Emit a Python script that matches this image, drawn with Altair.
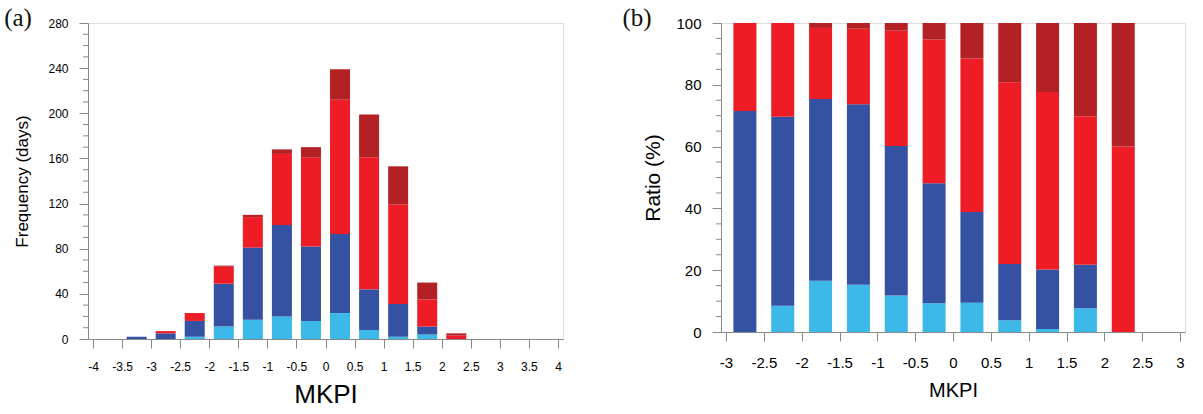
import altair as alt
import pandas as pd

# ---------------- data ----------------
# Panel (a): frequency (days) per MKPI bin, stacked by category
centers_a = [-3.25, -2.75, -2.25, -1.75, -1.25, -0.75, -0.25, 0.25, 0.75, 1.25, 1.75, 2.25]
light_a = [0, 0, 2, 11, 17, 20, 16, 23, 8, 2, 4, 0]
blue_a  = [2, 5, 14, 38, 64, 81, 66, 70, 36, 29, 7, 0]
red_a   = [0, 2, 7, 15, 27, 63, 79, 119, 117, 88, 24, 3]
dark_a  = [0, 0, 0, 1, 2, 4, 9, 27, 38, 34, 15, 2]

# Panel (b): ratio (%) per MKPI bin
centers_b = [-2.75, -2.25, -1.75, -1.25, -0.75, -0.25, 0.25, 0.75, 1.25, 1.75, 2.25]
light_b = [0, 8.5, 16.6, 15.3, 11.8, 9.3, 9.5, 3.8, 1.0, 7.7, 0]
blue_b  = [71.5, 61.2, 58.8, 58.4, 48.4, 38.8, 29.3, 18.2, 19.2, 14.1, 0]
red_b   = [28.5, 30.3, 23.0, 24.4, 37.3, 46.5, 49.7, 58.8, 57.5, 48.0, 60.0]
dark_b  = [0, 0, 1.6, 1.9, 2.5, 5.4, 11.5, 19.2, 22.3, 30.2, 40.0]

cats = ["c1", "c2", "c3", "c4"]
colors = ["#3cb8e9", "#3551a2", "#ee1d25", "#b32124"]

ticks_a_x = [-4, -3.5, -3, -2.5, -2, -1.5, -1, -0.5, 0, 0.5, 1, 1.5, 2, 2.5, 3, 3.5, 4]
ticks_a_y = [0, 40, 80, 120, 160, 200, 240, 280]
minor_a_y = [v for v in range(0, 281, 10) if v % 40 != 0]
ticks_b_x = [-3, -2.5, -2, -1.5, -1, -0.5, 0, 0.5, 1, 1.5, 2, 2.5, 3]
ticks_b_y = [0, 20, 40, 60, 80, 100]
minor_b_y = [v for v in range(0, 101, 5) if v % 20 != 0]


def stack(centers, series):
    rows = []
    for i, c in enumerate(centers):
        base = 0.0
        for k, vals in enumerate(series):
            v = vals[i]
            if v > 0:
                rows.append(dict(x=c, y0=base, y1=base + v, cat=cats[k], order=k))
            base += v
    return pd.DataFrame(rows)


df_a = stack(centers_a, [light_a, blue_a, red_a, dark_a])
df_b = stack(centers_b, [light_b, blue_b, red_b, dark_b])

FONT = "Liberation Sans"
GRID = "#8a8a8a"
LAB = "#333333"
color_scale = alt.Scale(domain=cats, range=colors)


def panel(df, xdom, ydom, xt, yt, minor, ytitle, bar_w, w, h, lab_fs, xtitle_fs, ytitle_fs,
          x_lpad, x_tpad, y_tpad, tag, tag_dx):
    xs = alt.Scale(domain=xdom, nice=False, zero=False)
    ys = alt.Scale(domain=ydom, nice=False)
    bars = alt.Chart(df).mark_bar(size=bar_w).encode(
        x=alt.X("x:Q", scale=xs,
                axis=alt.Axis(values=xt, title="MKPI", grid=False, labelExpr="'' + datum.value",
                              tickSize=9, labelPadding=x_lpad, labelFontSize=lab_fs,
                              titleFontSize=xtitle_fs, titlePadding=x_tpad, labelFlush=False,
                              titleFontWeight="normal", titleFont=FONT, labelFont=FONT)),
        y=alt.Y("y0:Q", scale=ys,
                axis=alt.Axis(values=yt, title=ytitle, grid=False, tickSize=9, labelPadding=11,
                              labelFontSize=lab_fs, titleFontSize=ytitle_fs,
                              titlePadding=y_tpad, labelFlush=False,
                              titleFontWeight="normal", titleFont=FONT, labelFont=FONT)),
        y2="y1:Q",
        color=alt.Color("cat:N", scale=color_scale, legend=None),
    )
    mdf = pd.DataFrame({"v": minor})
    minor_ticks = alt.Chart(mdf).mark_rule(color=GRID, strokeWidth=1).encode(
        y=alt.Y("v:Q", scale=ys),
        x=alt.value(0),
        x2=alt.value(-5),
    )
    tdf = pd.DataFrame({"t": [tag]})
    tag_text = alt.Chart(tdf).mark_text(
        font="Liberation Serif", fontSize=25, color="#111111", align="center", baseline="middle"
    ).encode(text="t:N", x=alt.value(tag_dx), y=alt.value(-5))
    return alt.layer(bars, minor_ticks, tag_text).properties(width=w, height=h)


pa = panel(df_a, [-4, 4], [0, 280], ticks_a_x, ticks_a_y, minor_a_y, "Frequency (days)",
           20, 475, 316, 12, 26, 17, 13, 9, 16, "(a)", -70)
pb = panel(df_b, [-3, 3], [0, 100], ticks_b_x, ticks_b_y, minor_b_y, "Ratio (%)",
           23, 464, 309, 15, 20, 21, 14, 10, 12, "(b)", -84)

chart = alt.hconcat(pa, pb, spacing=57).properties(
    padding={"left": 3, "top": 5, "right": 5, "bottom": 2}
).configure_view(
    stroke=GRID, strokeWidth=1
).configure_axis(
    domainColor=GRID, tickColor=GRID, labelColor=LAB, titleColor=LAB,
    labelFont=FONT, titleFont=FONT, titleFontWeight="normal"
).configure(background="white")

chart.save("out.html", embed_options={"renderer": "svg", "actions": False})
